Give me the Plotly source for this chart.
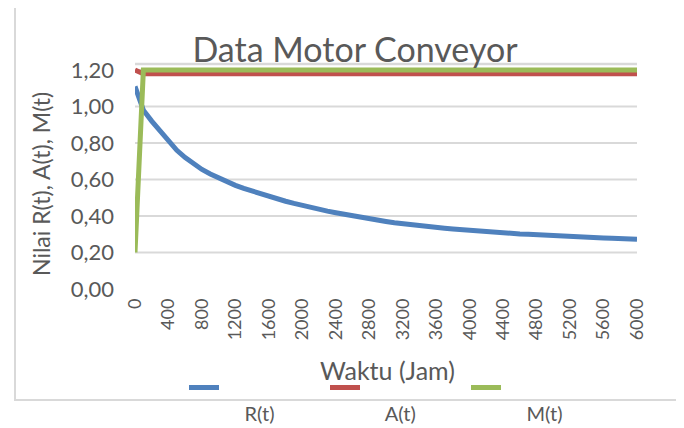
import plotly.graph_objects as go

# Categories (hours)
hours = list(range(0, 6001, 100))

# Series values
R_t = [1.11, 0.98, 0.92, 0.865, 0.81, 0.76, 0.72, 0.685, 0.655, 0.63,
       0.607, 0.586, 0.568, 0.551, 0.536, 0.521, 0.507, 0.494, 0.481, 0.469,
       0.457, 0.447, 0.437, 0.427, 0.418, 0.409, 0.400, 0.392, 0.384, 0.377,
       0.370, 0.363, 0.357, 0.352, 0.347, 0.342, 0.338, 0.333, 0.329, 0.325,
       0.321, 0.317, 0.314, 0.311, 0.308, 0.305, 0.302, 0.300, 0.297, 0.295,
       0.292, 0.290, 0.288, 0.286, 0.284, 0.282, 0.280, 0.278, 0.276, 0.274,
       0.272]
A_t = [1.20] + [1.18] * 60
M_t = [0.20] + [1.20] * 60

# Tick labels
x_tickvals = list(range(0, 6001, 400))
y_tickvals = [0.0, 0.2, 0.4, 0.6, 0.8, 1.0, 1.2]
y_ticktext = ["0,00", "0,20", "0,40", "0,60", "0,80", "1,00", "1,20"]

FONT = "Lato"
TXT = "#595959"
GRID = "#d9d9d9"

# figure coords (page has 8px body margin)
W, H = 676, 420
L, R, T, B = 127, 47, 56, 139
PW, PH = W - L - R, H - T - B

fig = go.Figure()
pad = "\u00a0" * 4
fig.add_trace(go.Scatter(x=hours, y=R_t, mode="lines", name="<br>" + pad + "R(t)",
                         line=dict(color="#4f81bd", width=5)))
fig.add_trace(go.Scatter(x=hours, y=A_t, mode="lines", name="<br>" + pad + "A(t)",
                         line=dict(color="#c0504d", width=5)))
fig.add_trace(go.Scatter(x=hours, y=M_t, mode="lines", name="<br>" + pad + "M(t)",
                         line=dict(color="#9bbb59", width=5)))

shapes = []
for v in y_tickvals[1:]:
    shapes.append(dict(type="line", xref="paper", yref="y", x0=0, x1=1, y0=v, y1=v,
                       line=dict(color=GRID, width=2), layer="below"))
# top edge of plot area
shapes.append(dict(type="line", xref="paper", yref="paper", x0=0, x1=1, y0=1, y1=1,
                   line=dict(color=GRID, width=2.5), layer="below"))
# chart border
shapes.append(dict(type="rect", xref="paper", yref="paper",
                   x0=(7 - L) / PW, x1=(670 - L) / PW,
                   y0=(H - B - 392) / PH, y1=1.6,
                   line=dict(color=GRID, width=2), layer="below"))

annotations = [
    dict(text="Nilai R(t), A(t), M(t)", textangle=-90, showarrow=False,
         xref="paper", yref="paper", x=(33 - L) / PW, y=(H - B - 176) / PH,
         xanchor="center", yanchor="middle",
         font=dict(size=23, color=TXT, family=FONT)),
    dict(text="Waktu (Jam)", showarrow=False,
         xref="paper", yref="paper", x=(379 - L) / PW, y=(H - B - 362) / PH,
         xanchor="center", yanchor="middle",
         font=dict(size=25, color=TXT, family=FONT)),
]

fig.update_layout(
    width=W, height=H,
    margin=dict(l=L, r=R, t=T, b=B, autoexpand=False),
    paper_bgcolor="white", plot_bgcolor="white",
    font=dict(family=FONT, color=TXT),
    title=dict(text="Data Motor Conveyor", font=dict(size=34, color=TXT, family=FONT),
               xref="container", yref="container", x=347 / W, y=1 - 42 / H,
               xanchor="center", yanchor="middle"),
    shapes=shapes,
    annotations=annotations,
    showlegend=True,
    legend=dict(orientation="h", xref="container", x=176 / W, xanchor="left",
                yref="container", y=1 - 360 / H, yanchor="top", valign="top",
                entrywidth=96, entrywidthmode="pixels",
                font=dict(size=20, color=TXT, family=FONT),
                bgcolor="rgba(0,0,0,0)", tracegroupgap=0),
    xaxis=dict(range=[0, 6000], tickvals=x_tickvals, tickangle=-90,
               showgrid=False, zeroline=False, showline=False, automargin=False,
               ticklabelstandoff=5,
               tickfont=dict(size=18, color=TXT, family=FONT)),
    yaxis=dict(range=[0, 1.233], tickvals=y_tickvals, ticktext=y_ticktext,
               showgrid=False, zeroline=False, showline=False, automargin=False,
               ticklabelstandoff=20,
               tickfont=dict(size=22, color=TXT, family=FONT)),
)

fig.write_html("out.html")
